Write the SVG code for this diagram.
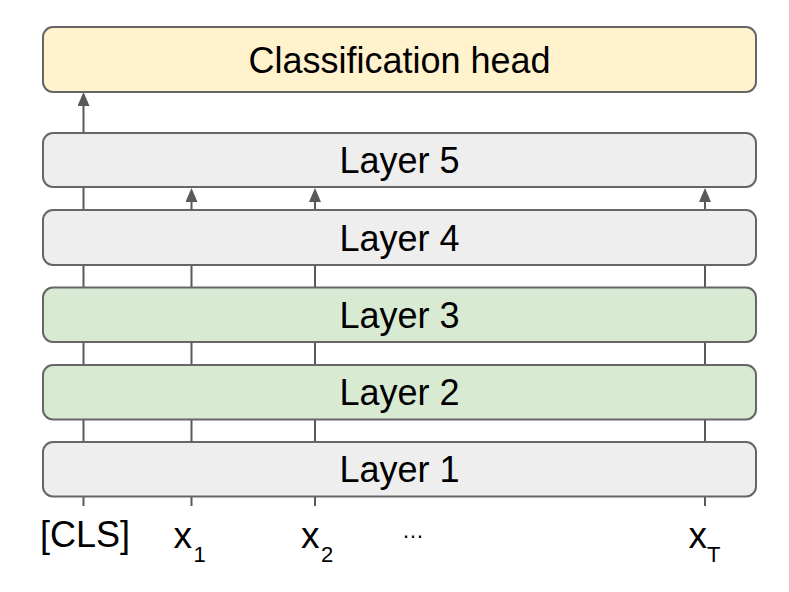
<svg xmlns="http://www.w3.org/2000/svg" width="789" height="592" viewBox="0 0 789 592">
  <style>
    .box { stroke: #666666; stroke-width: 2; }
    .gray { fill: #eeeeee; }
    .green { fill: #d9ead3; }
    .yellow { fill: #fff2cc; }
    .lbl { font-family: "Liberation Sans", Arial, sans-serif; font-size: 36px; fill: #000000; text-anchor: middle; }
    .tok { font-family: "Liberation Sans", Arial, sans-serif; font-size: 37px; fill: #000000; }
    .sub { font-family: "Liberation Sans", Arial, sans-serif; font-size: 22px; fill: #000000; }
    .conn line { stroke: #595959; stroke-width: 2; fill: none; }
  </style>
  <defs>
    <marker id="arrow" viewBox="0 0 14 12" refX="0" refY="6" markerWidth="14" markerHeight="12" markerUnits="userSpaceOnUse" orient="auto">
      <path d="M0,0 L14,6 L0,12 Z" fill="#595959"/>
    </marker>
  </defs>

  <g id="connectors" class="conn">
    <line x1="83.5" y1="506" x2="83.5" y2="497"/>
    <line x1="191.5" y1="506" x2="191.5" y2="497"/>
    <line x1="315" y1="506" x2="315" y2="497"/>
    <line x1="705" y1="506" x2="705" y2="497"/>
    <line x1="83.5" y1="442" x2="83.5" y2="419"/>
    <line x1="191.5" y1="442" x2="191.5" y2="419"/>
    <line x1="315" y1="442" x2="315" y2="419"/>
    <line x1="705" y1="442" x2="705" y2="419"/>
    <line x1="83.5" y1="365" x2="83.5" y2="342"/>
    <line x1="191.5" y1="365" x2="191.5" y2="342"/>
    <line x1="315" y1="365" x2="315" y2="342"/>
    <line x1="705" y1="365" x2="705" y2="342"/>
    <line x1="83.5" y1="287.5" x2="83.5" y2="265"/>
    <line x1="191.5" y1="287.5" x2="191.5" y2="265"/>
    <line x1="315" y1="287.5" x2="315" y2="265"/>
    <line x1="705" y1="287.5" x2="705" y2="265"/>
    <line x1="83.5" y1="210" x2="83.5" y2="187"/>
    <line x1="191.5" y1="210" x2="191.5" y2="202" marker-end="url(#arrow)"/>
    <line x1="315" y1="210" x2="315" y2="202" marker-end="url(#arrow)"/>
    <line x1="705" y1="210" x2="705" y2="202" marker-end="url(#arrow)"/>
    <line x1="83.5" y1="133" x2="83.5" y2="106" marker-end="url(#arrow)"/>
  </g>

  <g id="head">
    <rect class="box yellow" x="43" y="27" width="713" height="65" rx="10"/>
    <text class="lbl" x="399.5" y="72.5">Classification head</text>
  </g>
  <g id="layer5">
    <rect class="box gray" x="43" y="133" width="713" height="54" rx="10"/>
    <text class="lbl" x="399.5" y="173">Layer 5</text>
  </g>
  <g id="layer4">
    <rect class="box gray" x="43" y="210" width="713" height="55" rx="10"/>
    <text class="lbl" x="399.5" y="250.5">Layer 4</text>
  </g>
  <g id="layer3">
    <rect class="box green" x="43" y="287.5" width="713" height="54.5" rx="10"/>
    <text class="lbl" x="399.5" y="327.7">Layer 3</text>
  </g>
  <g id="layer2">
    <rect class="box green" x="43" y="365" width="713" height="54.5" rx="10"/>
    <text class="lbl" x="399.5" y="405">Layer 2</text>
  </g>
  <g id="layer1">
    <rect class="box gray" x="43" y="442" width="713" height="54.5" rx="10"/>
    <text class="lbl" x="399.5" y="482">Layer 1</text>
  </g>

  <g id="tok-cls">
    <text class="lbl" x="85" y="547">[CLS]</text>
  </g>
  <g id="tok-x1">
    <text class="tok" x="173.5" y="548">x</text>
    <text class="sub" x="193.5" y="562">1</text>
  </g>
  <g id="tok-x2">
    <text class="tok" x="301" y="548">x</text>
    <text class="sub" x="321" y="562">2</text>
  </g>
  <g id="tok-dots">
    <text class="sub" x="402" y="538" font-size="25">…</text>
  </g>
  <g id="tok-xT">
    <text class="tok" x="688.5" y="548">x</text>
    <text class="sub" x="707" y="562">T</text>
  </g>
</svg>
